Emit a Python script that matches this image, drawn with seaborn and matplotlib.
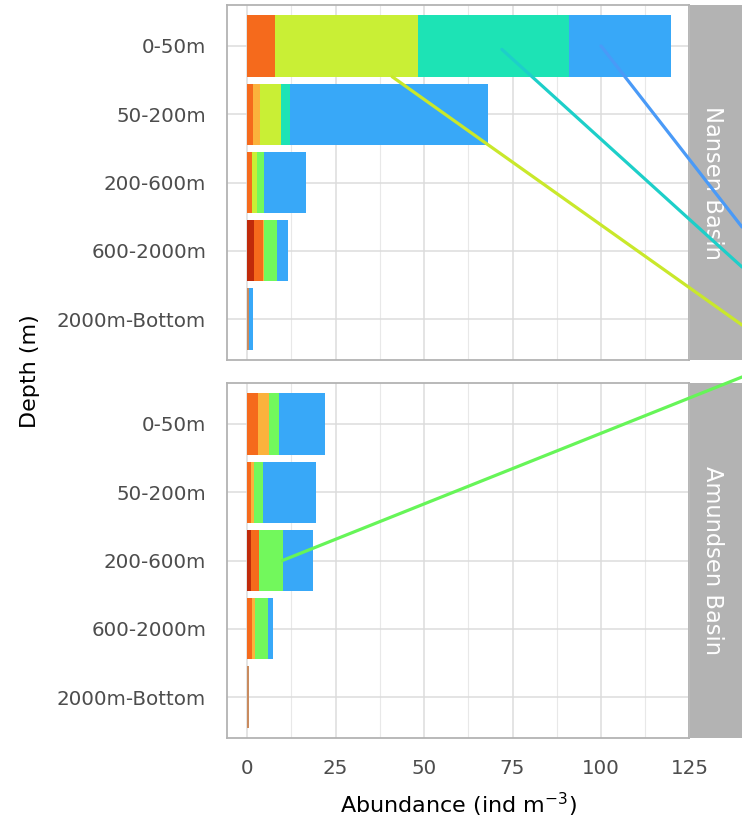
import matplotlib
matplotlib.use("Agg")
import matplotlib.pyplot as plt
from matplotlib.patches import Rectangle, ConnectionPatch
from matplotlib.ticker import MultipleLocator
import seaborn as sns
import pandas as pd
import numpy as np

# Depth classes (top to bottom) and basins (facet rows)
depths = ["0-50m", "50-200m", "200-600m", "600-2000m", "2000m-Bottom"]
basins = ["Nansen Basin", "Amundsen Basin"]

# Abundance (ind m^-3) per group: first five values Nansen Basin, last five Amundsen Basin
group_a = [0, 0, 0, 1.9, 0,        0, 0, 1.0, 0, 0]
group_b = [7.9, 1.75, 1.55, 2.5, 0, 3.05, 1.0, 2.35, 1.45, 0]
group_c = [0, 0, 0, 0, 0.7,        0, 0, 0, 0, 0.5]
group_d = [0, 1.85, 0, 0.5, 0,     3.1, 0.9, 0, 0.95, 0]
group_e = [40.3, 6.1, 1.15, 0, 0,  0, 0, 0, 0, 0]
group_f = [0, 0, 2.05, 3.65, 0,    2.95, 2.7, 6.75, 3.6, 0]
group_g = [42.7, 2.4, 0, 0, 0,     0, 0, 0, 0, 0]
group_h = [28.9, 55.9, 12.05, 3.0, 1.0, 12.8, 14.8, 8.6, 1.3, 0]

group_names = ["A", "B", "C", "D", "E", "F", "G", "H"]
group_values = [group_a, group_b, group_c, group_d, group_e, group_f, group_g, group_h]
group_colors = ["#c02a0a", "#f56a1c", "#c98b5f", "#fbb23c",
                "#c9ef35", "#72f85c", "#1de3b5", "#38a8f8"]

# Long table with running totals so the bars can be stacked
rows = []
for bi, basin in enumerate(basins):
    for di, depth in enumerate(depths):
        cum = 0.0
        for gname, vals in zip(group_names, group_values):
            v = vals[bi * 5 + di]
            cum += v
            rows.append({"basin": basin, "depth": depth, "group": gname,
                         "value": v, "cum": cum})
df = pd.DataFrame(rows)
df["depth"] = pd.Categorical(df["depth"], categories=depths, ordered=True)

sns.set_theme(style="white")
plt.rcParams["font.family"] = ["DejaVu Sans"]

W, H = 742, 823
fig = plt.figure(figsize=(W / 100, H / 100), dpi=100)

def fx(px):
    return px / W

def fy(py):
    return 1 - py / H

left, right = 227, 689.5
panels = [(5, 360), (383, 738)]
axes = []
for (top, bottom) in panels:
    ax = fig.add_axes([fx(left), fy(bottom), fx(right) - fx(left), (bottom - top) / H])
    axes.append(ax)

tick_color = "#4d4d4d"
for ax, basin in zip(axes, basins):
    sub = df[df["basin"] == basin]
    # draw the widest running total first, then overlay the shorter ones
    for gname, col in reversed(list(zip(group_names, group_colors))):
        part = sub[sub["group"] == gname]
        sns.barplot(data=part, x="cum", y="depth", orient="h", color=col,
                    saturation=1, width=0.9, linewidth=0, errorbar=None, ax=ax)
    ax.set_xlim(-5.65, 125.0)
    ax.set_ylim(4.6, -0.6)
    ax.xaxis.set_major_locator(MultipleLocator(25))
    ax.xaxis.set_minor_locator(MultipleLocator(12.5))
    ax.set_axisbelow(True)
    ax.grid(which="major", axis="both", color="#dcdcdc", lw=1.1)
    ax.grid(which="minor", axis="x", color="#e8e8e8", lw=0.8)
    for s in ax.spines.values():
        s.set_visible(True)
        s.set_color("#b3b3b3")
        s.set_linewidth(1.3)
    ax.set_xlabel("")
    ax.set_ylabel("")
    ax.tick_params(axis="y", length=0, pad=15, labelsize=14.3, labelcolor=tick_color)
    ax.tick_params(axis="x", which="both", length=0, pad=15, labelsize=14.3,
                   labelcolor=tick_color)

axes[0].tick_params(axis="x", labelbottom=False)

# Facet strips on the right
for (top, bottom), basin in zip(panels, basins):
    fig.add_artist(Rectangle((fx(right), fy(bottom)), 0.2, (bottom - top) / H,
                             transform=fig.transFigure, facecolor="#b3b3b3",
                             edgecolor="none", zorder=1))
    fig.text(fx(713), fy((top + bottom) / 2), basin, rotation=270, color="white",
             fontsize=16.3, ha="center", va="center", zorder=2)

# Leader lines running from bar segments off to the right
leaders = [
    (axes[0], 100.0, 0.0, 227, "#4a9af7"),
    (axes[0], 72.0, 0.05, 267, "#1dcfc9"),
    (axes[0], 41.0, 0.45, 325, "#c9e82b"),
    (axes[1], 10.0, 2.0, 377, "#66f558"),
]
for ax, x0, y0, yend, col in leaders:
    con = ConnectionPatch(xyA=(x0, y0), coordsA=ax.transData,
                          xyB=(1.0, fy(yend)), coordsB=fig.transFigure,
                          color=col, lw=2.3, zorder=3)
    con.set_clip_on(False)
    fig.add_artist(con)

fig.text(fx(458), fy(805), "Abundance (ind m$^{-3}$)", ha="center", va="center",
         fontsize=16, color="black")
fig.text(fx(30), fy(371), "Depth (m)", rotation=90, ha="center", va="center",
         fontsize=16, color="black")

fig.savefig("out.png", dpi=100)
